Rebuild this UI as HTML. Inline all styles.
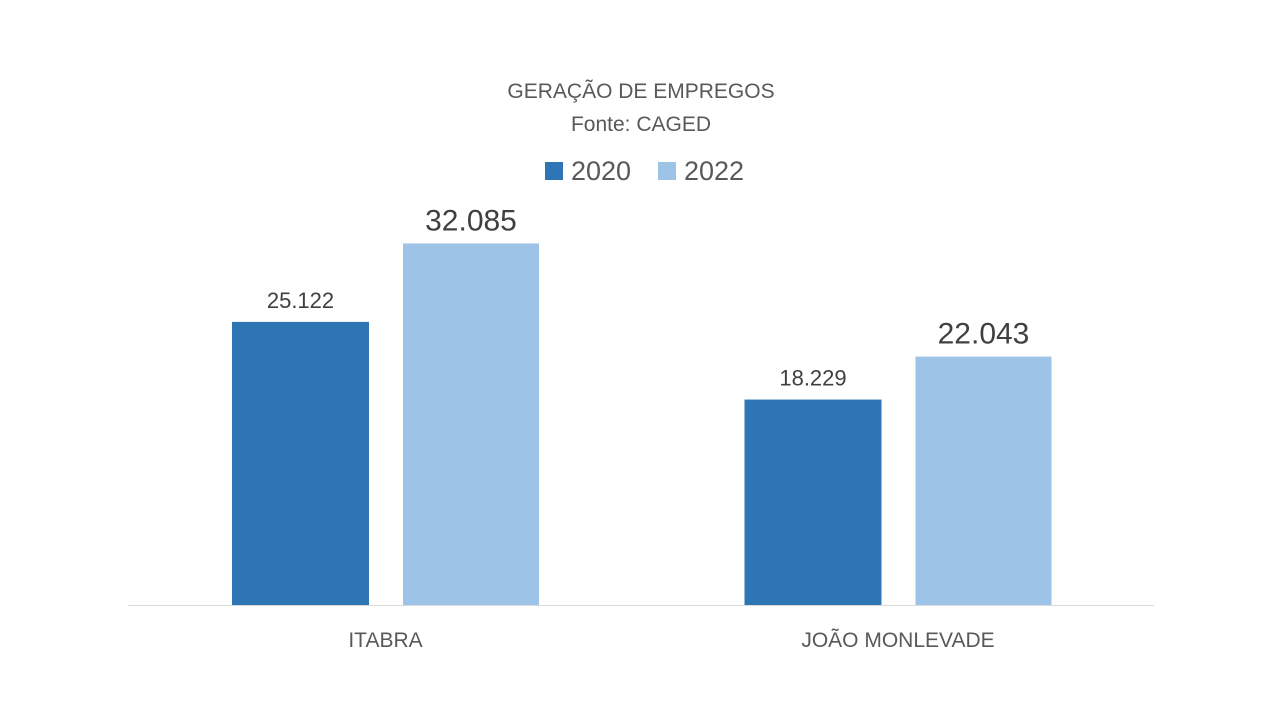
<!DOCTYPE html>
<html><head><meta charset="utf-8"><style>
body{margin:0;background:#fff;width:1280px;height:720px;overflow:hidden;font-family:"Liberation Sans",sans-serif}
</style></head><body>
<svg width="1280" height="720" font-family="Liberation Sans, sans-serif">
<text x="641" y="98" text-anchor="middle" font-size="21" fill="#595959">GERAÇÃO DE EMPREGOS</text>
<text x="641" y="131" text-anchor="middle" font-size="21" fill="#595959">Fonte: CAGED</text>
<g>
<rect x="545" y="162" width="18" height="18" fill="#2E75B6"/>
<text x="571" y="180" font-size="27" fill="#595959">2020</text>
<rect x="658" y="162" width="18" height="18" fill="#9DC3E6"/>
<text x="684" y="180" font-size="27" fill="#595959">2022</text>
</g>
<line x1="128" y1="605.5" x2="1154" y2="605.5" stroke="#d9d9d9" stroke-width="1"/>
<g id="bars"></g>
</svg>
<script>
const categories=["ITABRA","JOÃO MONLEVADE"];
const values2020=[25122,18229];
const values2022=[32085,22043];
const labels2020=["25.122","18.229"];
const labels2022=["32.085","22.043"];
const ns="http://www.w3.org/2000/svg";
const g=document.getElementById("bars");
const base=605, k=0.01127;
const y=v=>base-v*k;
const catCenter=i=>385.5+i*512.5;
function mk(t,a){const e=document.createElementNS(ns,t);for(const n in a)e.setAttribute(n,a[n]);g.appendChild(e);return e;}
categories.forEach((c,i)=>{
  const cx=catCenter(i);
  const b1=mk("rect",{x:cx-153.5,y:y(values2020[i]),width:137,height:base-y(values2020[i]),fill:"#2E75B6"});
  
  
  const b2=mk("rect",{x:cx+17.5,y:y(values2022[i]),width:136,height:base-y(values2022[i]),fill:"#9DC3E6"});
  
  
  const t1=mk("text",{x:cx-85,y:y(values2020[i])-14,"text-anchor":"middle","font-size":"22",fill:"#404040"});
  t1.textContent=labels2020[i];
  
  
  const t2=mk("text",{x:cx+85.5,y:y(values2022[i])-13,"text-anchor":"middle","font-size":"30",fill:"#404040"});
  t2.textContent=labels2022[i];
  
  
  const cl=mk("text",{x:cx,y:647,"text-anchor":"middle","font-size":"21",fill:"#595959"});
  cl.textContent=c;
  
  
});
</script>
</body></html>
